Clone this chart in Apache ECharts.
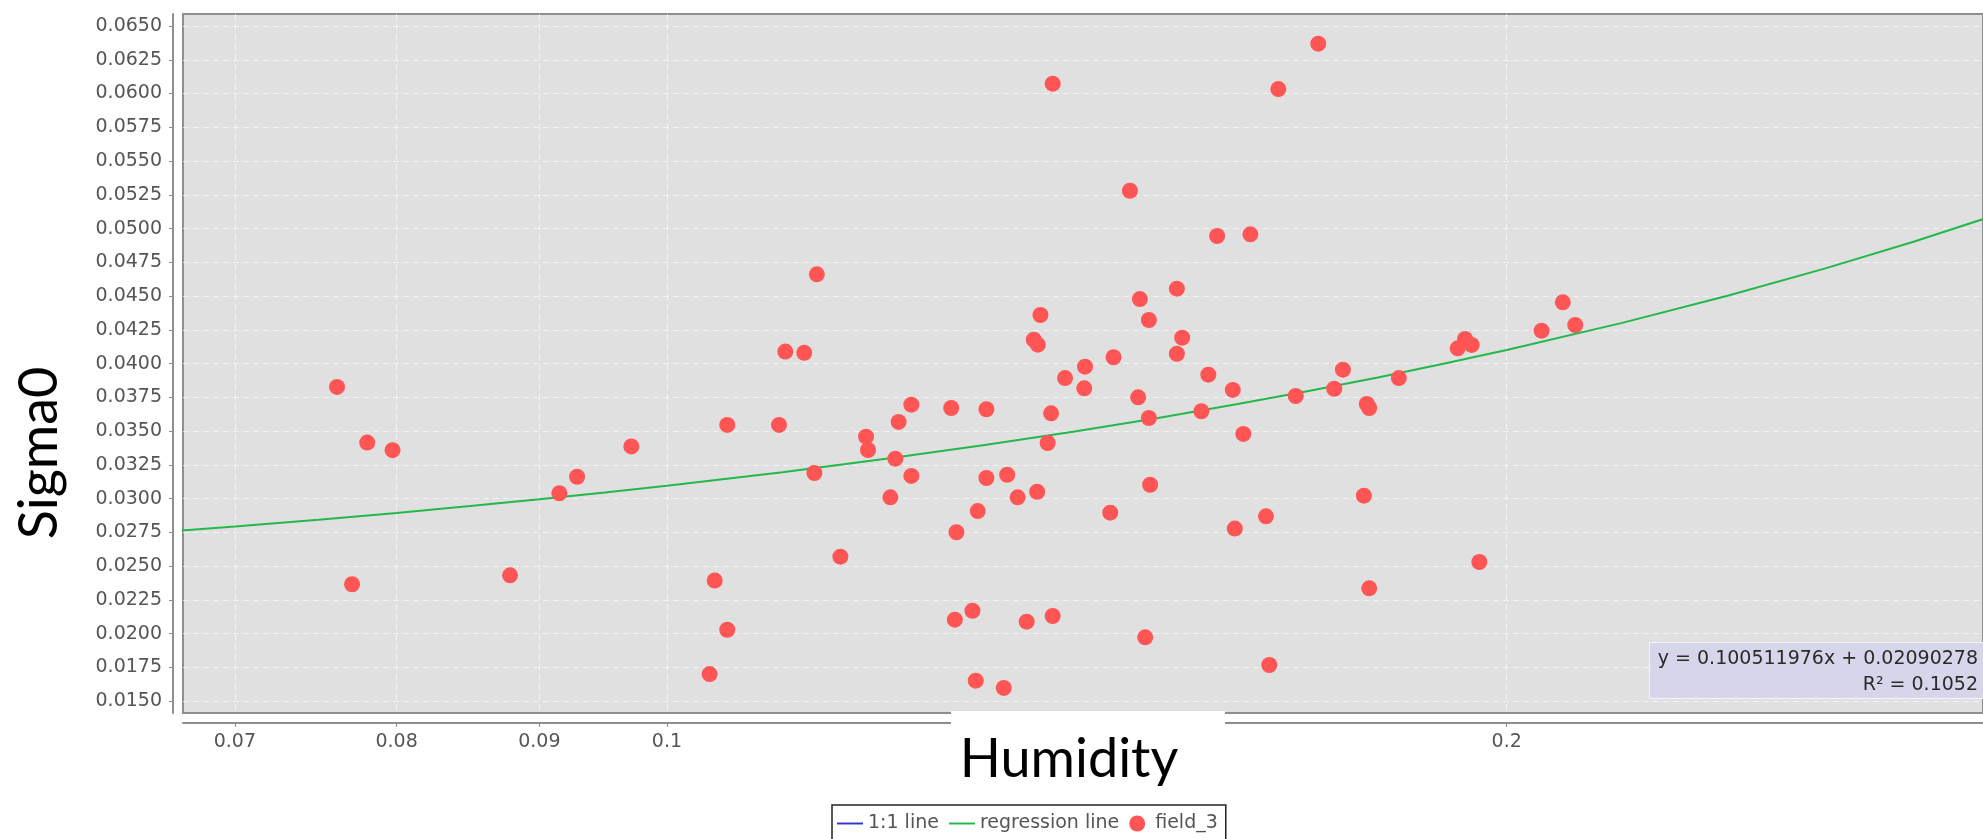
<!DOCTYPE html>
<html>
<head>
<meta charset="utf-8">
<script src="https://cdn.jsdelivr.net/npm/echarts@6/dist/echarts.min.js"></script>
<style>
  html, body { margin: 0; padding: 0; background: #ffffff; }
  #chart { width: 1983px; height: 839px; }
</style>
</head>
<body>
<div id="chart"></div>
<script>
// Humidity (x) and Sigma0 (y) of each sample, field_3
const humidity = [
  0.07616, 0.07711, 0.07808, 0.07973, 0.08785, 0.09150, 0.09285, 0.09710, 0.10358, 0.10402,
  0.10510, 0.10510, 0.10969, 0.11026, 0.11200, 0.11317, 0.11294, 0.11539, 0.11786, 0.11805,
  0.12025, 0.12074, 0.12107, 0.12235, 0.12235, 0.12644, 0.12682, 0.12699, 0.12868, 0.12903,
  0.12924, 0.13017, 0.13017, 0.13205, 0.13242, 0.13357, 0.13457, 0.13536, 0.13581, 0.13574,
  0.13611, 0.13692, 0.13731, 0.13749, 0.13749, 0.13890, 0.14112, 0.14121, 0.14418, 0.14457,
  0.14654, 0.14754, 0.14775, 0.14840, 0.14885, 0.14885, 0.14901, 0.15233, 0.15233, 0.15300,
  0.15544, 0.15634, 0.15748, 0.15953, 0.15979, 0.16092, 0.16186, 0.16396, 0.16441, 0.16564,
  0.16803, 0.17119, 0.17346, 0.17471, 0.17776, 0.17819, 0.17854, 0.17854, 0.18296, 0.19207,
  0.19324, 0.19430, 0.19553, 0.20584, 0.20948, 0.21164
];
const sigma0 = [
  0.03827, 0.02366, 0.03415, 0.03359, 0.02432, 0.03040, 0.03162, 0.03387, 0.01701, 0.02394,
  0.03546, 0.02029, 0.03546, 0.04089, 0.04080, 0.04661, 0.03190, 0.02570, 0.03459, 0.03360,
  0.03010, 0.03296, 0.03568, 0.03696, 0.03168, 0.03671, 0.02104, 0.02751, 0.02170, 0.01652,
  0.02908, 0.03662, 0.03153, 0.01598, 0.03177, 0.03010, 0.02089, 0.04177, 0.04140, 0.03051,
  0.04360, 0.03412, 0.03632, 0.02131, 0.06073, 0.03893, 0.03817, 0.03977, 0.02896, 0.04047,
  0.05280, 0.03750, 0.04478, 0.01973, 0.03597, 0.04323, 0.03103, 0.04555, 0.04073, 0.04192,
  0.03647, 0.03918, 0.04945, 0.03805, 0.02778, 0.03479, 0.04957, 0.02869, 0.01768, 0.06033,
  0.03760, 0.06369, 0.03814, 0.03955, 0.03022, 0.03701, 0.03671, 0.02336, 0.03893, 0.04113,
  0.04182, 0.04138, 0.02531, 0.04244, 0.04454, 0.04286
];

// Fitted line y = a*x + b, as printed in the annotation box
const regSlope = 0.100511976;
const regIntercept = 0.02090278;
const regRSquared = '0.1052';
const regX = [0.066, 0.07, 0.075, 0.08, 0.085, 0.09, 0.095, 0.10, 0.11, 0.12, 0.13, 0.14,
              0.15, 0.16, 0.17, 0.18, 0.19, 0.20, 0.22, 0.24, 0.26, 0.28, 0.30];

// 1:1 reference line end points
const oneToOneX = [0.066, 0.30];

// Axis ranges and tick labels
const xRange = [0.067066, 0.29633];
const yRange = [0.014126, 0.065889];
const xTickValues = [0.07, 0.08, 0.09, 0.1, 0.2];
const xTickLabels = ['0.07', '0.08', '0.09', '0.1', '0.2'];
const yTickLabels = ['0.0150', '0.0175', '0.0200', '0.0225', '0.0250', '0.0275', '0.0300',
  '0.0325', '0.0350', '0.0375', '0.0400', '0.0425', '0.0450', '0.0475', '0.0500', '0.0525',
  '0.0550', '0.0575', '0.0600', '0.0625', '0.0650'];

const scatterData = humidity.map((h, i) => [h, sigma0[i]]);
const regData = regX.map(x => [x, regSlope * x + regIntercept]);
const oneToOneData = oneToOneX.map(x => [x, x]);
const yTickValues = yTickLabels.map(Number);

function xLabel(v) {
  for (let i = 0; i < xTickValues.length; i++) {
    if (Math.abs(v - xTickValues[i]) / xTickValues[i] < 1e-6) return xTickLabels[i];
  }
  return String(+Number(v).toPrecision(3));
}

const tickFont = { fontFamily: 'DejaVu Sans', fontSize: 19, color: '#555555' };
const gridDash = { color: 'rgba(250,250,250,0.75)', width: 1, type: [6, 4] };

const chart = echarts.init(document.getElementById('chart'), null, { renderer: 'canvas' });

chart.setOption({
  animation: false,
  backgroundColor: '#ffffff',
  grid: {
    left: 183, right: -3, top: 14, bottom: 126,
    show: true,
    backgroundColor: '#e0e0e0',
    borderColor: '#8e8e8e',
    borderWidth: 2
  },
  xAxis: {
    type: 'log',
    logBase: 10,
    min: xRange[0],
    max: xRange[1],
    offset: 10,
    axisLine: { show: true, lineStyle: { color: '#8e8e8e', width: 2 } },
    axisTick: { show: true, length: 4, inside: false, customValues: xTickValues,
                lineStyle: { color: '#8e8e8e', width: 1 } },
    axisLabel: { show: true, margin: 10, customValues: xTickValues, formatter: xLabel,
                 ...tickFont },
    splitLine: { show: true, lineStyle: gridDash },
    minorTick: { show: false },
    minorSplitLine: { show: false }
  },
  yAxis: {
    type: 'value',
    min: yRange[0],
    max: yRange[1],
    offset: 10,
    axisLine: { show: true, lineStyle: { color: '#8e8e8e', width: 2 } },
    axisTick: { show: true, length: 4, inside: false, customValues: yTickValues,
                lineStyle: { color: '#8e8e8e', width: 1 } },
    axisLabel: { show: true, margin: 11, customValues: yTickValues,
                 formatter: v => Number(v).toFixed(4), ...tickFont },
    splitLine: { show: true, lineStyle: gridDash }
  },
  legend: {
    left: 832,
    top: 805,
    orient: 'horizontal',
    padding: [9, 8, 12, 5],
    itemGap: 10,
    itemWidth: 26,
    itemHeight: 16,
    backgroundColor: '#ffffff',
    borderColor: '#222222',
    borderWidth: 1.5,
    borderRadius: 0,
    selectedMode: false,
    textStyle: { fontFamily: 'DejaVu Sans', fontSize: 19, color: '#555555' },
    data: [
      { name: '1:1 line', icon: 'path://M0,0H40V3H0Z' },
      { name: 'regression line', icon: 'path://M0,0H40V3H0Z' },
      { name: 'field_3', icon: 'circle' }
    ]
  },
  series: [
    {
      name: '1:1 line',
      type: 'line',
      data: oneToOneData,
      color: '#3434c8',
      symbol: 'none',
      clip: true,
      lineStyle: { width: 2, color: '#3434c8' },
      z: 2
    },
    {
      name: 'regression line',
      type: 'line',
      data: regData,
      color: '#22b84a',
      symbol: 'none',
      clip: true,
      lineStyle: { width: 2, color: '#22b84a' },
      z: 3
    },
    {
      name: 'field_3',
      type: 'scatter',
      data: scatterData,
      color: '#ff5555',
      symbol: 'circle',
      symbolSize: 16,
      itemStyle: { color: '#ff5555', opacity: 1 },
      z: 4
    }
  ],
  graphic: [
    // white panel carrying the x-axis title
    {
      type: 'rect', z: 100,
      shape: { x: 951, y: 711, width: 274, height: 90 },
      style: { fill: '#ffffff' }
    },
    {
      type: 'text', z: 101,
      x: 1069, y: 760,
      style: {
        text: 'Humidity',
        font: '54px Lato, "Open Sans", sans-serif',
        fill: '#000000',
        align: 'center',
        verticalAlign: 'middle'
      }
    },
    // y-axis title
    {
      type: 'text', z: 101,
      x: 40, y: 453,
      rotation: Math.PI / 2,
      style: {
        text: 'Sigma0',
        font: '54px Lato, "Open Sans", sans-serif',
        fill: '#000000',
        align: 'center',
        verticalAlign: 'middle'
      }
    },
    // regression annotation box
    {
      type: 'rect', z: 100,
      shape: { x: 1649.5, y: 642.5, width: 340, height: 56 },
      style: { fill: '#d6d6eb', stroke: '#f4f4fa', lineWidth: 1 }
    },
    {
      type: 'text', z: 101,
      x: 1978, y: 659.5,
      style: {
        text: 'y = ' + regSlope + 'x + ' + regIntercept,
        font: '19px "DejaVu Sans", sans-serif',
        fill: '#2a2a2a',
        align: 'right',
        verticalAlign: 'middle'
      }
    },
    {
      type: 'text', z: 101,
      x: 1978, y: 685,
      style: {
        text: 'R\u00B2 = ' + regRSquared,
        font: '19px "DejaVu Sans", sans-serif',
        fill: '#2a2a2a',
        align: 'right',
        verticalAlign: 'middle'
      }
    }
  ]
});
</script>
</body>
</html>
